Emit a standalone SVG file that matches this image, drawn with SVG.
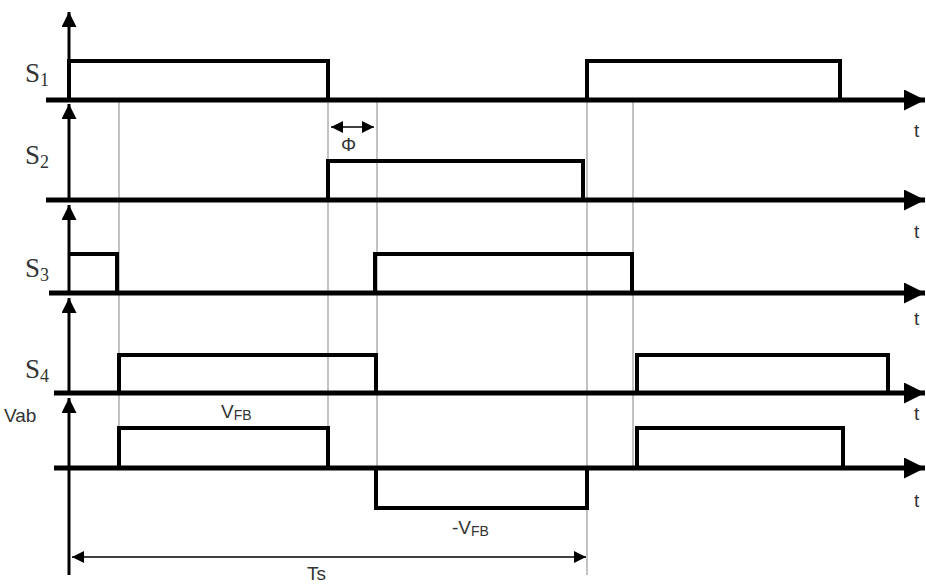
<svg xmlns="http://www.w3.org/2000/svg" width="926" height="586" viewBox="0 0 926 586">
<style>
.ax{stroke:#000;stroke-width:5;fill:none}
.va{stroke:#000;stroke-width:3;fill:none}
.sig{stroke:#000;stroke-width:4;fill:none;stroke-linejoin:miter}
.gr{stroke:#999;stroke-width:1.2;fill:none}
.thin{stroke:#000;stroke-width:1.5;fill:none}
.ser{font-family:"Liberation Serif",serif;font-size:27px;fill:#333}
.sub{font-family:"Liberation Serif",serif;font-size:18px;fill:#333}
.sans{font-family:"Liberation Sans",Arial,sans-serif;font-size:19px;fill:#333}
.ss{font-family:"Liberation Sans",Arial,sans-serif;font-size:14px;fill:#333}
</style>
<defs>
<marker id="ah" viewBox="0 0 10 10" refX="10" refY="5" markerWidth="4.4" markerHeight="4.2" orient="auto" markerUnits="strokeWidth"><path d="M0,0 L10,5 L0,10 z" fill="#000"/></marker>
<marker id="av" viewBox="0 0 10 10" refX="10" refY="5" markerWidth="5" markerHeight="5" orient="auto" markerUnits="strokeWidth"><path d="M0,0 L10,5 L0,10 z" fill="#000"/></marker>
<marker id="as" viewBox="0 0 10 10" refX="10" refY="5" markerWidth="9" markerHeight="8" orient="auto-start-reverse" markerUnits="strokeWidth"><path d="M0,0 L10,5 L0,10 z" fill="#000"/></marker>
</defs>
<g id="gridlines">
<line class="gr" x1="119" y1="100" x2="119" y2="468"/>
<line class="gr" x1="328" y1="100" x2="328" y2="468"/>
<line class="gr" x1="377" y1="100" x2="377" y2="508"/>
<line class="gr" x1="587" y1="100" x2="587" y2="575"/>
<line class="gr" x1="633" y1="100" x2="633" y2="468"/>
</g>
<g id="connectors">
<line class="ax" x1="46" y1="100" x2="925" y2="100" marker-end="url(#ah)"/>
<line class="ax" x1="46" y1="200" x2="925" y2="200" marker-end="url(#ah)"/>
<line class="ax" x1="49" y1="293" x2="925" y2="293" marker-end="url(#ah)"/>
<line class="ax" x1="54" y1="393" x2="925" y2="393" marker-end="url(#ah)"/>
<line class="ax" x1="54" y1="468" x2="925" y2="468" marker-end="url(#ah)"/>
<line class="va" x1="69" y1="100" x2="69" y2="12" marker-end="url(#av)"/>
<line class="va" x1="69" y1="200" x2="69" y2="104" marker-end="url(#av)"/>
<line class="va" x1="69" y1="293" x2="69" y2="205" marker-end="url(#av)"/>
<line class="va" x1="69" y1="393" x2="69" y2="298" marker-end="url(#av)"/>
<line class="va" x1="69" y1="575" x2="69" y2="398" marker-end="url(#av)"/>
<line class="thin" x1="331" y1="127" x2="374" y2="127" marker-start="url(#as)" marker-end="url(#as)"/>
<line class="thin" x1="72" y1="557" x2="586" y2="557" marker-start="url(#as)" marker-end="url(#as)"/>
</g>
<g id="S1">
<polyline class="sig" points="69,100 69,61 328,61 328,100"/>
<polyline class="sig" points="587,100 587,61 840,61 840,100"/>
<text class="ser" x="25" y="82">S<tspan class="sub" dy="4">1</tspan></text>
</g>
<g id="S2">
<polyline class="sig" points="328,200 328,161 583,161 583,200"/>
<text class="ser" x="25" y="164">S<tspan class="sub" dy="4">2</tspan></text>
</g>
<g id="S3">
<polyline class="sig" points="69,254 117,254 117,293"/>
<polyline class="sig" points="375,293 375,254 632,254 632,293"/>
<text class="ser" x="25" y="277">S<tspan class="sub" dy="4">3</tspan></text>
</g>
<g id="S4">
<polyline class="sig" points="119,393 119,355 376,355 376,393"/>
<polyline class="sig" points="637,393 637,355 888,355 888,393"/>
<text class="ser" x="25" y="378">S<tspan class="sub" dy="4">4</tspan></text>
</g>
<g id="Vab">
<polyline class="sig" points="119,468 119,428 328,428 328,468"/>
<polyline class="sig" points="376,468 376,508 587,508 587,468"/>
<polyline class="sig" points="637,468 637,428 843,428 843,468"/>
<text class="sans" x="4" y="422" font-size="20">Vab</text>
<text class="sans" x="221" y="418">V<tspan class="ss" dy="2">FB</tspan></text>
<text class="sans" x="452" y="534">-V<tspan class="ss" dy="2">FB</tspan></text>
</g>
<g id="labels">
<text class="sans" x="341" y="151" font-size="20">Φ</text>
<text class="sans" x="307" y="580" font-size="19">Ts</text>
<text class="sans" x="914" y="137" font-size="20">t</text>
<text class="sans" x="914" y="238" font-size="20">t</text>
<text class="sans" x="914" y="325" font-size="20">t</text>
<text class="sans" x="914" y="420" font-size="20">t</text>
<text class="sans" x="914" y="507" font-size="20">t</text>
</g>
</svg>
